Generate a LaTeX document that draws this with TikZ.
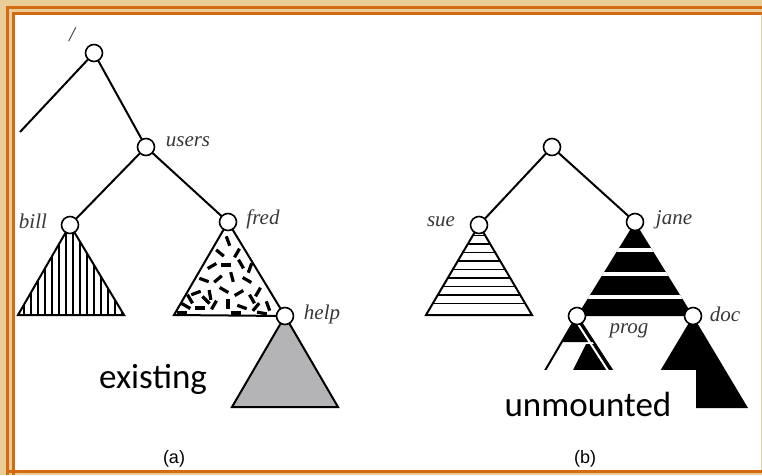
\documentclass[tikz,border=0pt]{standalone}
\usepackage{fontspec}
\newfontfamily\calib{Carlito}
\newfontfamily\arialf{Liberation Sans}
\newfontfamily\serifit{Liberation Serif}
\definecolor{wood}{RGB}{233,204,150}
\definecolor{frameor}{RGB}{212,106,18}
\definecolor{helpgray}{RGB}{180,179,182}
\begin{document}
\begin{tikzpicture}[x=1pt,y=-1pt,
  vtx/.style={circle,draw,fill=white,minimum size=17pt,inner sep=0pt,line width=1.6pt},
  lbl/.style={font=\serifit\itshape\fontsize{21}{24}\selectfont, text=black!78, inner sep=0pt},
  lnk/.style={line width=2pt},
  tri/.style={line width=2pt, line join=miter},
  bigtxt/.style={font=\calib\fontsize{35}{40}\selectfont, inner sep=0pt},
  captxt/.style={font=\arialf\fontsize{18}{20}\selectfont, inner sep=0pt}]
\useasboundingbox (0,0) rectangle (762,475);
% frame
\fill[wood] (0,0) rectangle (762,475);
\draw[frameor, line width=3pt] (7.5,475) -- (7.5,7.5) -- (762,7.5);
\draw[frameor, line width=3pt] (13,475) -- (13,13) -- (762,13);
\fill[white] (14.5,14.5) rectangle (761,470);
\draw[frameor, line width=3pt] (7.5,471.5) -- (762,471.5);

% ---------- (a) ----------
\coordinate (cut) at (20,132);
\coordinate (r) at (94,53);
\coordinate (u) at (146,147);
\coordinate (bl) at (70,225);
\coordinate (fr) at (228,222);
\coordinate (hp) at (285,316);
\draw[lnk] (r) -- (cut);
\draw[lnk] (r) -- (u);
\draw[lnk] (u) -- (bl);
\draw[lnk] (u) -- (fr);
% bill: vertical hatch
\begin{scope}
  \clip (bl) -- (18,315) -- (124,315) -- cycle;
  \foreach \x in {24,31,...,124} \draw[line width=1.6pt] (\x,220) -- (\x,316);
\end{scope}
\draw[tri] (bl) -- (18,315) -- (124,315) -- cycle;
% fred: random dashes
\begin{scope}
  \clip (fr) -- (174,315) -- (hp) -- cycle;
  \foreach \x/\y/\a in {228/241/70, 220/253/40, 237/253/-60, 212/266/-30, 226/265/0,
     241/264/60, 204/280/20, 218/279/-40, 232/277/75, 247/280/30, 258/292/-60,
     196/293/-20, 210/295/80, 224/290/30, 239/293/-30, 252/299/60, 186/306/30,
     200/308/0, 214/305/-60, 228/304/90, 242/307/20, 256/307/-50, 268/306/70,
     182/313/0, 236/313/0, 262/313/10, 250/268/-70, 206/300/45, 190/299/60}
    \draw[line width=3.2pt] ([shift={(\a:5)}]\x,\y) -- ([shift={(\a+180:5)}]\x,\y);
\end{scope}
\draw[tri] (fr) -- (174,315) -- (hp) -- cycle;
% help: gray
\filldraw[tri, fill=helpgray] (hp) -- (232,407) -- (338,407) -- cycle;

\node[vtx] (rn) at (r) {};
\node[vtx] (un) at (u) {};
\node[vtx] (bn) at (bl) {};
\node[vtx] (fn) at (fr) {};
\node[vtx] (hn) at (hp) {};
\node[lbl] (lr) at (72,35) {/};
\node[lbl] (lu) at (188,142) {users};
\node[lbl] (lb) at (33,221) {bill};
\node[lbl] (lf) at (263,219) {fred};
\node[lbl] (lh) at (322,314) {help};
\node[bigtxt] (ex) at (153,379) {existing};

% ---------- (b) ----------
\coordinate (r2) at (552,147);
\coordinate (su) at (479,225);
\coordinate (ja) at (635,222);
\coordinate (pr) at (577,316);
\coordinate (dc) at (693,316);
\draw[lnk] (r2) -- (su);
\draw[lnk] (r2) -- (ja);
% sue: horizontal stripes
\begin{scope}
  \clip (su) -- (426,315) -- (532,315) -- cycle;
  \foreach \y in {235.5,244,252.5,261,269.5,278,286.5,295,303.5}
    \draw[line width=1.7pt] (420,\y) -- (540,\y);
\end{scope}
\draw[tri] (su) -- (426,315) -- (532,315) -- cycle;
% jane: black with white bands
\fill (ja) -- (pr) -- (dc) -- cycle;
\begin{scope}
  \clip (ja) -- (pr) -- (dc) -- cycle;
  \foreach \y in {250,274,297}
    \draw[white, line width=3.5pt] (570,\y) -- (700,\y);
\end{scope}
% prog
\fill (pr) -- (561.7,342) -- (594,342) -- cycle;
\fill (586,344) -- (563,390) -- (625,390) -- (595,344) -- cycle;
\draw[tri] (pr) -- (533.6,390) -- (625,390) -- cycle;
\draw[white, line width=2pt] (578,324) -- (620.5,390);
% doc
\fill (dc) -- (638,408) -- (748,408) -- cycle;
% text box of "unmounted"
\fill[white] (495,370) rectangle (696,440);
\node[bigtxt] (um) at (588,404) {unmounted};

\node[vtx] (r2n) at (r2) {};
\node[vtx] (sn) at (su) {};
\node[vtx] (jn) at (ja) {};
\node[vtx] (pn) at (pr) {};
\node[vtx] (dn) at (dc) {};
\node[lbl] (ls) at (441,222) {sue};
\node[lbl] (lj) at (674,220) {jane};
\node[lbl] (lp) at (629,331) {prog};
\node[lbl] (ld) at (725,314) {doc};

\node[captxt] (ca) at (174,459) {(a)};
\node[captxt] (cb) at (585,459) {(b)};
\end{tikzpicture}
\end{document}
